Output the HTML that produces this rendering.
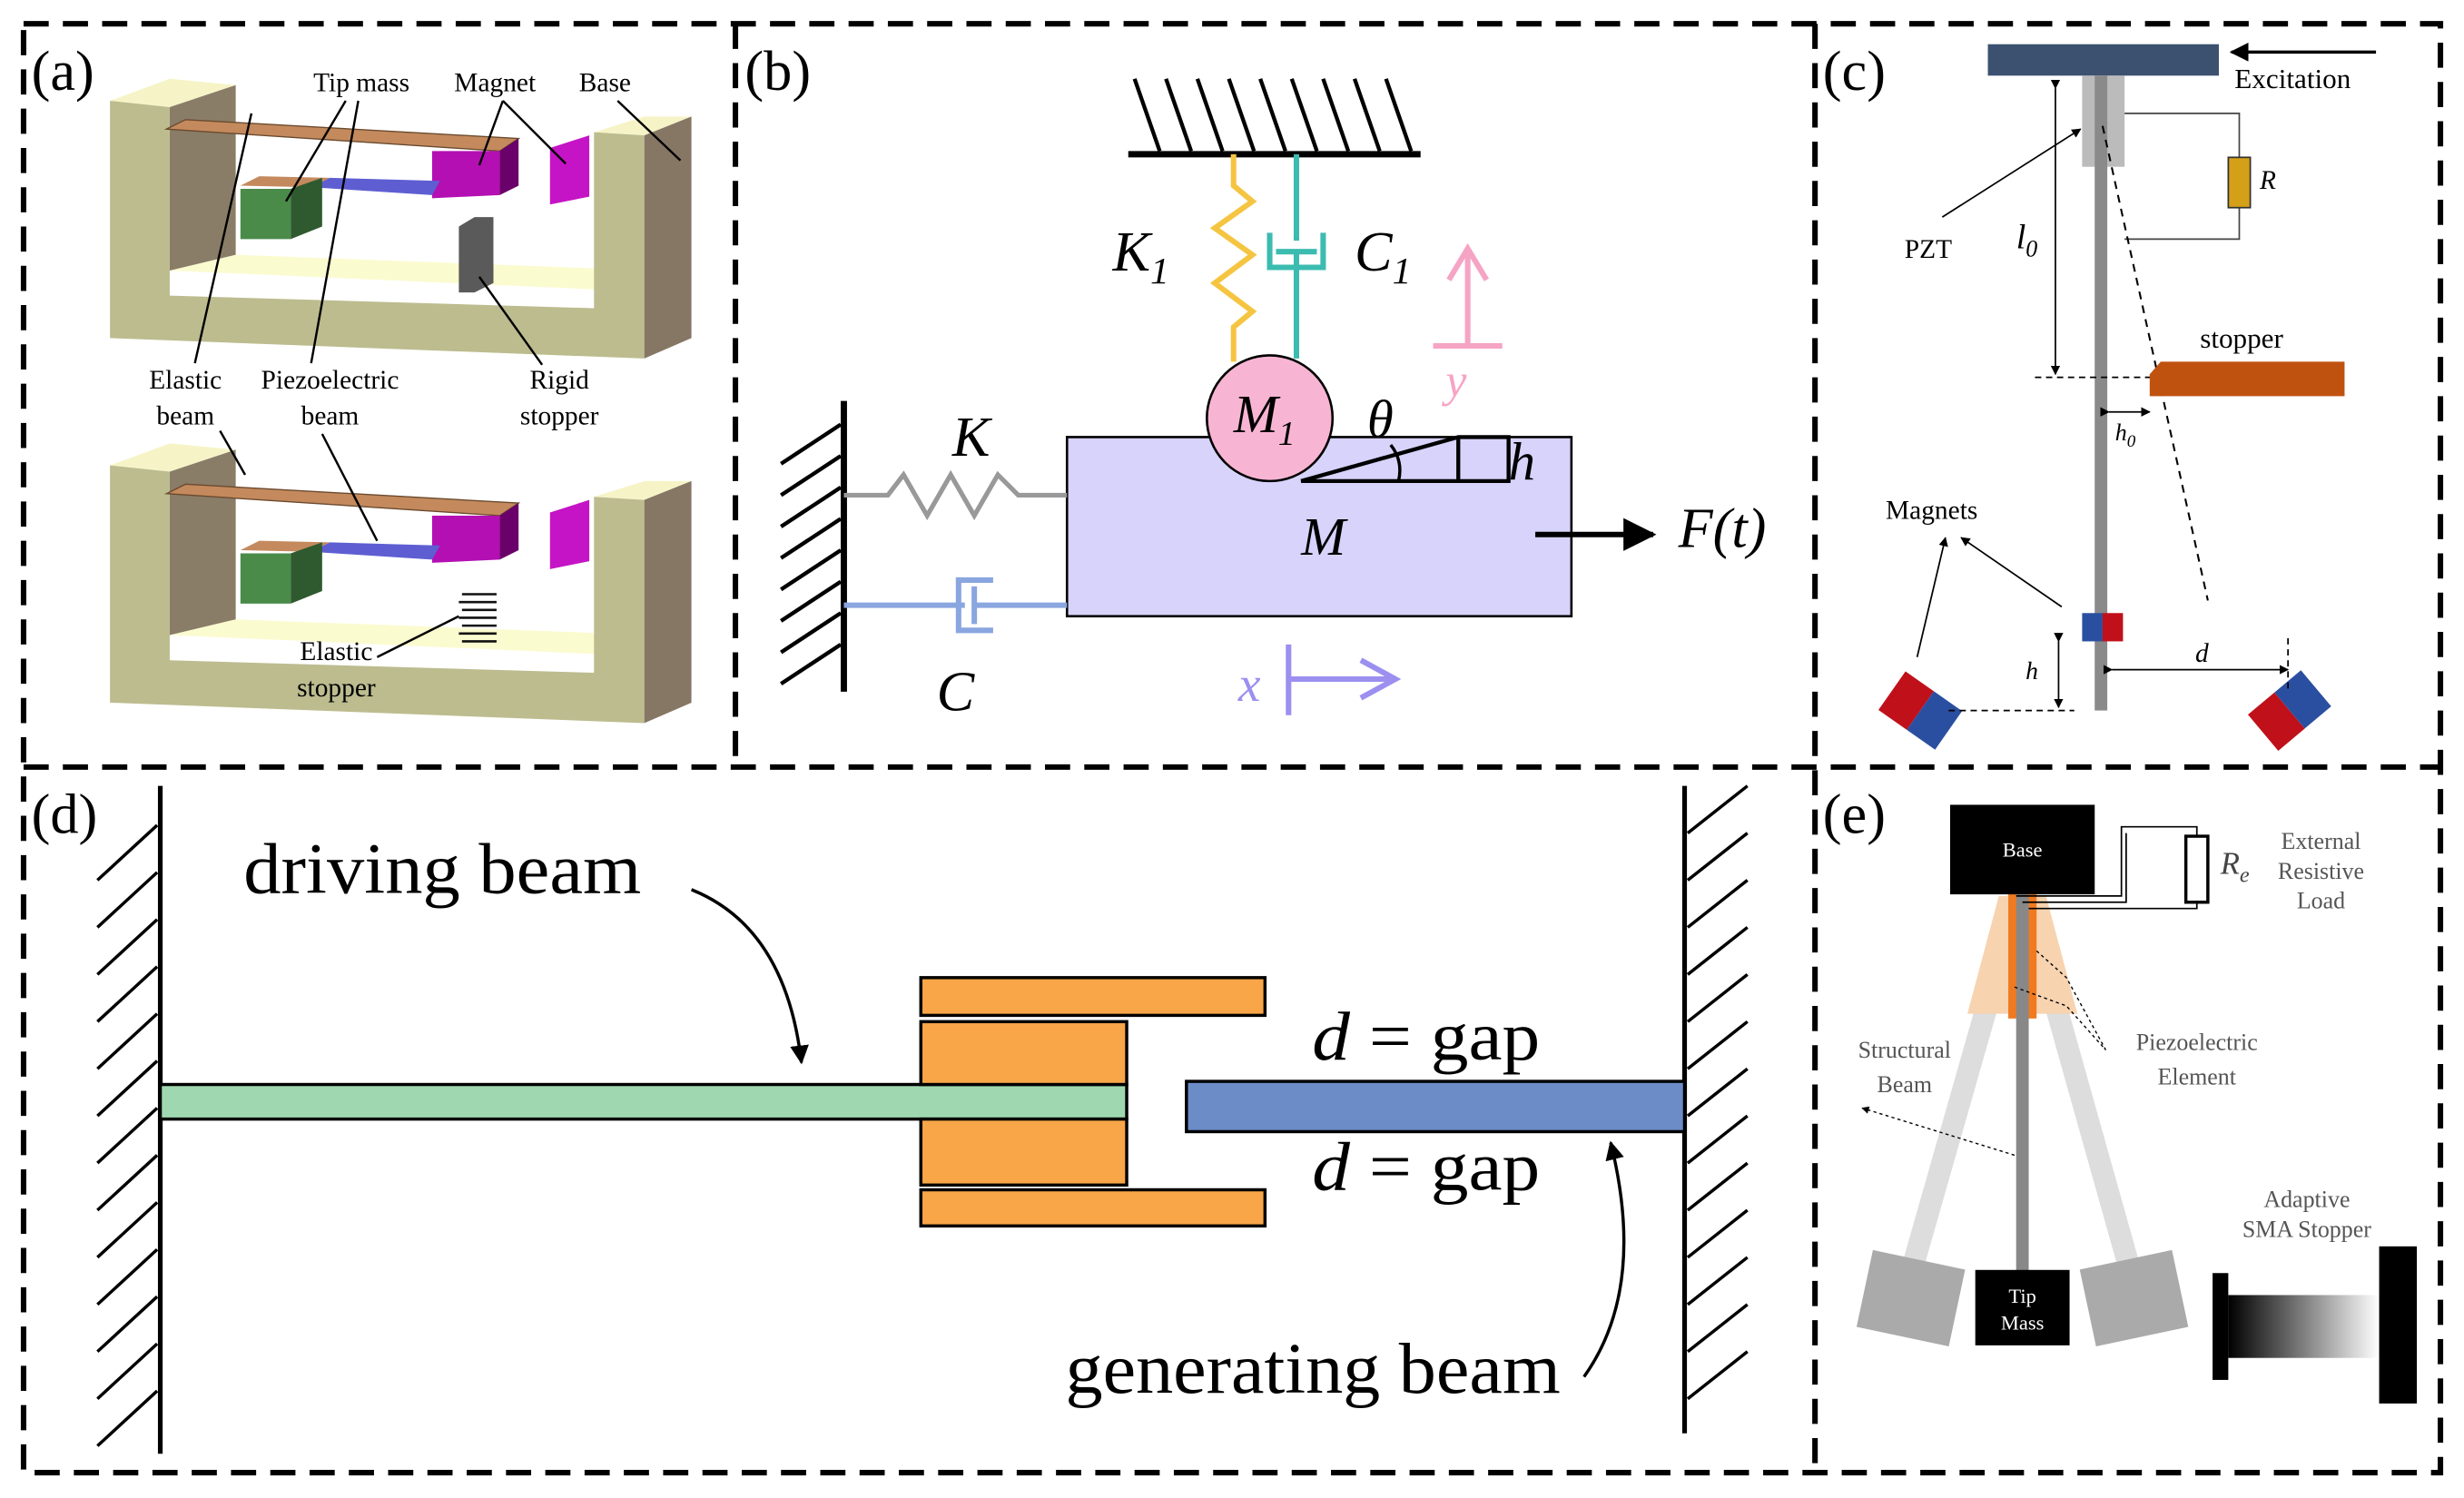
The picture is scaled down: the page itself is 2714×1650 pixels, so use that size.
<!DOCTYPE html>
<html><head><meta charset="utf-8"><style>
html,body{margin:0;padding:0;background:#fff;}
svg{display:block;}
text{font-family:"Liberation Serif",serif;}
</style></head><body>
<svg width="2714" height="1650" viewBox="0 0 1568 953" xmlns="http://www.w3.org/2000/svg">
<defs>
<marker id="ar" viewBox="0 0 10 10" refX="9" refY="5" markerWidth="6" markerHeight="6" orient="auto"><path d="M0,0L10,5L0,10z" fill="#000"/></marker>
<linearGradient id="gs" x1="0" x2="1"><stop offset="0" stop-color="#000"/><stop offset="1" stop-color="#fff"/></linearGradient>
</defs>
<rect width="1568" height="953" fill="#fff"/>
<g stroke="#000" stroke-width="3.5" stroke-dasharray="16,9" fill="none">
<rect x="15" y="15" width="1538" height="922"/>
<line x1="468" y1="15" x2="468" y2="488"/>
<line x1="1155" y1="15" x2="1155" y2="937"/>
<line x1="15" y1="488" x2="1553" y2="488"/>
</g>

<!-- Panel (a) -->
<text x="20" y="57" font-size="36">(a)</text>
<g id="unit">
<polygon points="108,172 150,162 415,172 378,184" fill="#fbfbd0"/>
<polygon points="70,64 108,50 150,54 108,68" fill="#f6f4c7"/>
<polygon points="108,68 150,54 150,162 108,172" fill="#8a7d68"/>
<polygon points="378,84 410,74 440,74 410,86" fill="#f6f4c7"/>
<polygon points="410,86 440,74 440,215 410,228" fill="#857764"/>
<polygon points="70,64 108,68 108,188 378,196 378,84 410,86 410,228 70,215" fill="#bcbc8f"/>
<polygon points="106,82 118,76 330,88 318,96" fill="#c48a5d" stroke="#6b4a2e" stroke-width="0.8"/>
<polygon points="275,96 318,96 318,124 275,126" fill="#b30fb3"/>
<polygon points="318,96 330,88 330,118 318,124" fill="#6a0069"/>
<polygon points="153,118 165,112 210,113 198,119" fill="#c48a5d"/>
<polygon points="198,119 210,113 280,115 275,124" fill="#5e5ed2"/>
<polygon points="153,120 185,120 185,152 153,152" fill="#4a8b4a"/>
<polygon points="185,120 205,113 205,144 185,152" fill="#2f5a2f"/>
<polygon points="350,94 375,86 375,125 350,130" fill="#c514c5"/>
</g>
<polygon points="292,144 302,138 314,138 314,180 302,186 292,186" fill="#5a5a5a"/>
<use href="#unit" transform="translate(0,232)"/>
<g stroke="#000" stroke-width="1.4" fill="none">
<line x1="160" y1="72" x2="124" y2="231"/>
<line x1="228" y1="64" x2="198" y2="231"/>
<line x1="220" y1="64" x2="182" y2="128"/>
<line x1="320" y1="64" x2="305" y2="105"/>
<line x1="320" y1="64" x2="360" y2="104"/>
<line x1="393" y1="64" x2="433" y2="102"/>
<line x1="305" y1="176" x2="345" y2="232"/>
<line x1="140" y1="274" x2="156" y2="302"/>
<line x1="205" y1="276" x2="240" y2="344"/>
<line x1="240" y1="418" x2="292" y2="392"/>
</g>
<g stroke="#111" stroke-width="1.5" fill="none">
<path d="M294,378h22M292,383h24M294,388h22M292,393h24M294,398h22M292,403h24M294,408h22"/>
</g>
<g font-size="17" text-anchor="middle">
<text x="230" y="58">Tip mass</text><text x="315" y="58">Magnet</text><text x="385" y="58">Base</text>
<text x="118" y="247">Elastic</text><text x="118" y="270">beam</text>
<text x="210" y="247">Piezoelectric</text><text x="210" y="270">beam</text>
<text x="356" y="247">Rigid</text><text x="356" y="270">stopper</text>
<text x="214" y="420">Elastic</text><text x="214" y="443">stopper</text>
</g>

<!-- Panel (b) -->
<text x="474" y="57" font-size="36">(b)</text>
<line x1="718" y1="98" x2="904" y2="98" stroke="#000" stroke-width="4"/>
<g stroke="#000" stroke-width="2.5"><path d="M738,96L722,50M758,96L742,50M778,96L762,50M798,96L782,50M818,96L802,50M838,96L822,50M858,96L842,50M878,96L862,50M898,96L882,50"/></g>
<polyline points="785,98 785,118 797,128 773,145 797,162 773,180 797,198 785,208 785,230" fill="none" stroke="#f5c542" stroke-width="3.5"/>
<g stroke="#3cbcb0" stroke-width="3.5" fill="none"><line x1="825" y1="98" x2="825" y2="153"/><path d="M808,148v22h34v-22"/><line x1="812" y1="160" x2="838" y2="160"/><line x1="825" y1="160" x2="825" y2="228"/></g>
<rect x="679" y="278" width="321" height="114" fill="#d7d3fb" stroke="#000" stroke-width="1.5"/>
<circle cx="808" cy="266" r="40" fill="#f8b5d3" stroke="#000" stroke-width="1.5"/>
<text x="785" y="275" font-size="34" font-style="italic">M<tspan font-size="22" dy="8">1</tspan></text>
<polygon points="828,306 928,278 960,278 960,306" fill="none" stroke="#000" stroke-width="2.5"/>
<line x1="928" y1="278" x2="928" y2="306" stroke="#000" stroke-width="2.5"/>
<path d="M885,283 Q893,293 890,306" fill="none" stroke="#000" stroke-width="2"/>
<text x="870" y="278" font-size="34" font-style="italic">θ</text>
<text x="960" y="305" font-size="34" font-style="italic">h</text>
<text x="828" y="353" font-size="34" font-style="italic">M</text>
<line x1="977" y1="340" x2="1052" y2="340" stroke="#000" stroke-width="3.5" marker-end="url(#ar)"/>
<text x="1068" y="348" font-size="36" font-style="italic">F(t)</text>
<line x1="537" y1="255" x2="537" y2="440" stroke="#000" stroke-width="4"/>
<g stroke="#000" stroke-width="2.5"><path d="M535,270L497,295M535,290L497,315M535,310L497,335M535,330L497,355M535,350L497,375M535,370L497,395M535,390L497,415M535,410L497,435"/></g>
<polyline points="537,315 565,315 575,302 590,328 605,302 620,328 635,302 648,315 679,315" fill="none" stroke="#999" stroke-width="3"/>
<g stroke="#8aa6e0" stroke-width="3.5" fill="none"><line x1="537" y1="385" x2="614" y2="385"/><path d="M632,369h-22v32h22"/><line x1="620" y1="373" x2="620" y2="397"/><line x1="620" y1="385" x2="679" y2="385"/></g>
<text x="606" y="290" font-size="36" font-style="italic">K</text>
<text x="596" y="452" font-size="36" font-style="italic">C</text>
<text x="708" y="172" font-size="36" font-style="italic">K<tspan font-size="24" dy="8">1</tspan></text>
<text x="862" y="172" font-size="36" font-style="italic">C<tspan font-size="24" dy="8">1</tspan></text>
<g stroke="#f6a4c4" stroke-width="3.5" fill="none"><line x1="934" y1="220" x2="934" y2="160"/><path d="M922,178L934,158L946,178"/><line x1="912" y1="220" x2="956" y2="220"/></g>
<text x="920" y="252" font-size="30" font-style="italic" fill="#f6a4c4">y</text>
<g stroke="#9b8ff0" stroke-width="3.5" fill="none"><line x1="820" y1="410" x2="820" y2="455"/><line x1="820" y1="432" x2="886" y2="432"/><path d="M866,420L888,432L866,444"/></g>
<text x="788" y="446" font-size="32" font-style="italic" fill="#9b8ff0">x</text>

<!-- Panel (c) -->
<text x="1160" y="57" font-size="36">(c)</text>
<rect x="1265" y="28" width="147" height="20" fill="#3c5070"/>
<line x1="1512" y1="33" x2="1420" y2="33" stroke="#000" stroke-width="2" marker-end="url(#ar)"/>
<text x="1422" y="56" font-size="18">Excitation</text>
<rect x="1325" y="48" width="27" height="58" fill="#bbb"/>
<rect x="1333" y="48" width="8" height="404" fill="#8a8a8a"/>
<g stroke="#444" stroke-width="1" fill="none"><polyline points="1352,72 1425,72 1425,100"/><polyline points="1352,152 1425,152 1425,132"/></g>
<rect x="1418" y="100" width="14" height="32" fill="#d4a017" stroke="#333"/>
<text x="1438" y="120" font-size="17" font-style="italic">R</text>
<line x1="1236" y1="138" x2="1324" y2="82" stroke="#000" stroke-width="1" marker-end="url(#ar)"/>
<text x="1212" y="164" font-size="17">PZT</text>
<text x="1283" y="158" font-size="22" font-style="italic">l<tspan font-size="15" dy="5">0</tspan></text>
<line x1="1308" y1="56" x2="1308" y2="238" stroke="#000" stroke-width="1" marker-start="url(#ar)" marker-end="url(#ar)"/>
<line x1="1295" y1="240" x2="1405" y2="240" stroke="#000" stroke-width="1" stroke-dasharray="4,3"/>
<line x1="1338" y1="80" x2="1405" y2="382" stroke="#000" stroke-width="1.2" stroke-dasharray="5,4"/>
<polygon points="1375,230 1492,230 1492,252 1368,252 1368,238" fill="#c0520f"/>
<text x="1400" y="221" font-size="18">stopper</text>
<line x1="1342" y1="262" x2="1368" y2="262" stroke="#000" stroke-width="1" marker-start="url(#ar)" marker-end="url(#ar)"/>
<text x="1346" y="280" font-size="15" font-style="italic">h<tspan font-size="11" dy="4">0</tspan></text>
<text x="1200" y="330" font-size="17">Magnets</text>
<line x1="1220" y1="418" x2="1238" y2="342" stroke="#000" stroke-width="1" marker-end="url(#ar)"/>
<line x1="1312" y1="386" x2="1248" y2="342" stroke="#000" stroke-width="1" marker-end="url(#ar)"/>
<rect x="1325" y="390" width="13" height="18" fill="#2b4fa0"/><rect x="1338" y="390" width="13" height="18" fill="#c0101a"/>
<g transform="translate(1222,452) rotate(35)"><rect x="-22" y="-15" width="22" height="30" fill="#c0101a"/><rect x="0" y="-15" width="22" height="30" fill="#2b4fa0"/></g>
<g transform="translate(1457,452) rotate(-40)"><rect x="-22" y="-15" width="22" height="30" fill="#c0101a"/><rect x="0" y="-15" width="22" height="30" fill="#2b4fa0"/></g>
<line x1="1240" y1="452" x2="1320" y2="452" stroke="#000" stroke-width="1" stroke-dasharray="4,3"/>
<line x1="1310" y1="408" x2="1310" y2="450" stroke="#000" stroke-width="1" marker-start="url(#ar)" marker-end="url(#ar)"/>
<text x="1289" y="432" font-size="16" font-style="italic">h</text>
<line x1="1344" y1="426" x2="1456" y2="426" stroke="#000" stroke-width="1" marker-start="url(#ar)" marker-end="url(#ar)"/>
<line x1="1456" y1="406" x2="1456" y2="440" stroke="#000" stroke-width="1" stroke-dasharray="4,3"/>
<text x="1397" y="421" font-size="17" font-style="italic">d</text>

<!-- Panel (d) -->
<text x="20" y="530" font-size="36">(d)</text>
<line x1="102" y1="500" x2="102" y2="925" stroke="#000" stroke-width="3"/>
<g stroke="#000" stroke-width="2">
<path d="M100,525L62,560M100,555L62,590M100,585L62,620M100,615L62,650M100,645L62,680M100,675L62,710M100,705L62,740M100,735L62,770M100,765L62,800M100,795L62,830M100,825L62,860M100,855L62,890M100,885L62,920"/>
</g>
<line x1="1072" y1="500" x2="1072" y2="912" stroke="#000" stroke-width="3"/>
<g stroke="#000" stroke-width="2">
<path d="M1074,530L1112,500M1074,560L1112,530M1074,590L1112,560M1074,620L1112,590M1074,650L1112,620M1074,680L1112,650M1074,710L1112,680M1074,740L1112,710M1074,770L1112,740M1074,800L1112,770M1074,830L1112,800M1074,860L1112,830M1074,890L1112,860"/>
</g>
<rect x="102" y="690" width="615" height="22" fill="#9fd8b0" stroke="#000" stroke-width="2"/>
<g fill="#f8a648" stroke="#000" stroke-width="2">
<rect x="586" y="622" width="219" height="24"/>
<rect x="586" y="650" width="131" height="40"/>
<rect x="586" y="712" width="131" height="42"/>
<rect x="586" y="757" width="219" height="23"/>
</g>
<rect x="755" y="688" width="317" height="32" fill="#6b8cc7" stroke="#000" stroke-width="2"/>
<text x="155" y="568" font-size="46" textLength="253" lengthAdjust="spacingAndGlyphs">driving beam</text>
<path d="M440,566 Q500,590 510,676" fill="none" stroke="#000" stroke-width="2" marker-end="url(#ar)"/>
<text x="835" y="674" font-size="44" textLength="145" lengthAdjust="spacingAndGlyphs"><tspan font-style="italic">d</tspan> = gap</text>
<text x="835" y="757" font-size="44" textLength="145" lengthAdjust="spacingAndGlyphs"><tspan font-style="italic">d</tspan> = gap</text>
<text x="678" y="886" font-size="46" textLength="315" lengthAdjust="spacingAndGlyphs">generating beam</text>
<path d="M1008,876 Q1048,820 1025,727" fill="none" stroke="#000" stroke-width="2" marker-end="url(#ar)"/>

<!-- Panel (e) -->
<text x="1160" y="530" font-size="36">(e)</text>
<line x1="1283" y1="575" x2="1216" y2="810" stroke="#ddd" stroke-width="14"/>
<line x1="1290" y1="575" x2="1356" y2="810" stroke="#ddd" stroke-width="14"/>
<polygon points="1272,570 1302,570 1322,645 1252,645" fill="#f7d3b0"/>
<rect x="1278" y="568" width="18" height="80" fill="#f07a20"/>
<rect x="1283" y="568" width="8" height="245" fill="#888"/>
<g transform="translate(1216,826) rotate(12)"><rect x="-30" y="-25" width="60" height="50" fill="#aaa"/></g>
<g transform="translate(1358,826) rotate(-12)"><rect x="-30" y="-25" width="60" height="50" fill="#aaa"/></g>
<rect x="1241" y="512" width="92" height="57" fill="#000"/>
<text x="1287" y="545" font-size="13" fill="#fff" text-anchor="middle">Base</text>
<rect x="1257" y="808" width="60" height="48" fill="#000"/>
<text x="1287" y="829" font-size="13" fill="#fff" text-anchor="middle">Tip</text>
<text x="1287" y="846" font-size="13" fill="#fff" text-anchor="middle">Mass</text>
<g stroke="#000" stroke-width="1" fill="none"><polyline points="1283,570 1350,570 1350,526 1398,526 1398,532"/><polyline points="1291,578 1398,578 1398,574"/><polyline points="1287,574 1353,574 1353,530"/></g>
<rect x="1391" y="532" width="14" height="42" fill="#fff" stroke="#000" stroke-width="2"/>
<text x="1413" y="556" font-size="20" font-style="italic" fill="#444">R<tspan font-size="14" dy="5">e</tspan></text>
<g font-size="15" fill="#555" text-anchor="middle">
<text x="1477" y="540">External</text><text x="1477" y="559">Resistive</text><text x="1477" y="578">Load</text>
<text x="1212" y="673">Structural</text><text x="1212" y="695">Beam</text>
<text x="1398" y="668">Piezoelectric</text><text x="1398" y="690">Element</text>
<text x="1468" y="768">Adaptive</text><text x="1468" y="787">SMA Stopper</text>
</g>
<g stroke="#000" stroke-width="0.8" stroke-dasharray="2,2" fill="none">
<line x1="1282" y1="735" x2="1185" y2="705" marker-end="url(#ar)"/>
<polyline points="1296,605 1315,622 1340,668"/>
<polyline points="1282,628 1315,640 1340,668"/>
</g>
<rect x="1408" y="810" width="10" height="68" fill="#000"/>
<rect x="1418" y="824" width="96" height="40" fill="url(#gs)"/>
<rect x="1514" y="793" width="24" height="100" fill="#000"/>
</svg>
</body></html>
